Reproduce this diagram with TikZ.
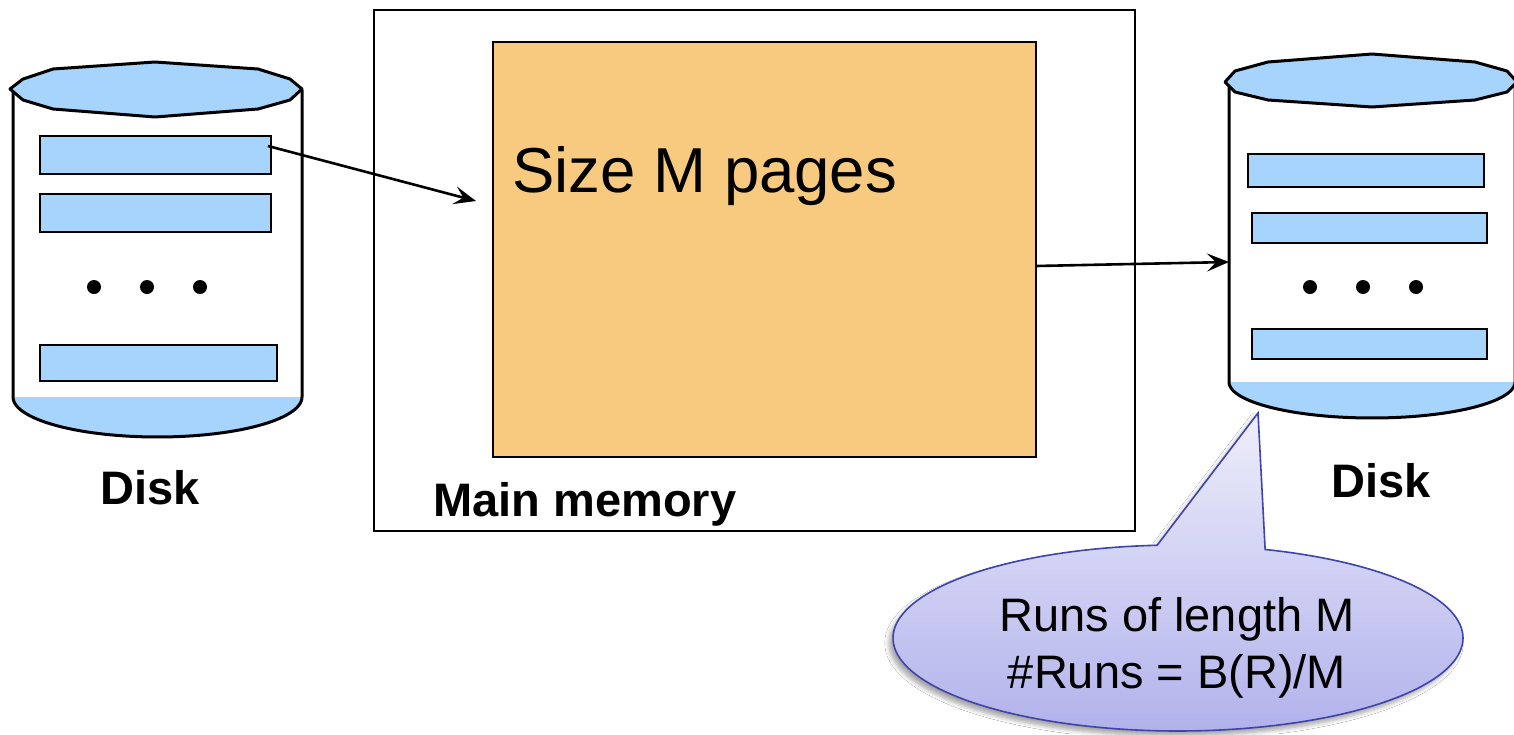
\documentclass[tikz,border=0pt]{standalone}
\usepackage{fontspec}
\setmainfont{Liberation Sans}
\usetikzlibrary{arrows.meta,shadows.blur,calc}
\definecolor{diskblue}{RGB}{166,212,252}
\definecolor{memorange}{RGB}{248,202,127}
\definecolor{calloutblue}{RGB}{62,68,170}
\definecolor{callouttop}{RGB}{238,238,251}
\definecolor{calloutbot}{RGB}{178,178,236}
\tikzset{
  outline/.style={line width=1.5pt, line join=round},
  blk/.style={draw, line width=1.3pt, fill=diskblue, inner sep=0pt, outer sep=0pt},
  dotmark/.style={circle, fill=black, inner sep=0pt, minimum size=7pt},
  boldlbl/.style={font=\fontsize{23.5}{28}\selectfont\bfseries, inner sep=0pt, anchor=base west},
  callouttxt/.style={font=\fontsize{23.5}{28}\selectfont, inner sep=0pt, anchor=base},
  conn/.style={line width=1.3pt, -{Stealth[length=11pt,width=9pt,inset=4.5pt]}},
  callout/.style={draw=calloutblue, line width=0.8pt, top color=callouttop, bottom color=calloutbot,
    blur shadow={shadow xshift=-2pt, shadow yshift=-2.5pt, shadow blur steps=6, shadow opacity=35}}
}
\begin{document}
\begin{tikzpicture}[x=0.5pt,y=-0.5pt]
\useasboundingbox (0,0) rectangle (1514,734);
\fill[white] (0,0) rectangle (1514,734);

% ---- main memory
\node[draw, line width=1.2pt, minimum width=380.5pt, minimum height=260.5pt, inner sep=0pt, outer sep=0pt] (mm) at (754.5,270.5) {};
\node[draw, line width=1.3pt, fill=memorange, minimum width=271.5pt, minimum height=207.5pt, inner sep=0pt, outer sep=0pt] (mem) at (764.5,249.5) {};
\node[font=\fontsize{31.75}{38}\selectfont, inner sep=0pt, anchor=base west] (size) at (512,192) {Size M pages};
\node[boldlbl] (mmlbl) at (433,516) {Main memory};

% ---- left disk
\fill[diskblue] (13,397) -- plot[domain=0:180,samples=60] ({157.5-144.5*cos(\x)},{397+40*sin(\x)}) -- cycle;
\draw[outline] (13,90) -- plot[domain=0:180,samples=60] ({157.5-144.5*cos(\x)},{397+40*sin(\x)}) -- (302,90);
\filldraw[outline, fill=diskblue] (10,89) -- (23,79) -- (53,69) -- (155,62) -- (258,69) -- (290,79) -- (302,89)
  -- (290,100) -- (258,109) -- (155,117) -- (53,109) -- (23,100) -- cycle;
\node[blk, minimum width=115.5pt, minimum height=19pt] (l1) at (155.5,155) {};
\node[blk, minimum width=115.5pt, minimum height=19pt] (l2) at (155.5,213) {};
\node[blk, minimum width=118.5pt, minimum height=18pt] (l3) at (158.5,363) {};
\node[dotmark] (ld1) at (94,287) {};
\node[dotmark] (ld2) at (147,287) {};
\node[dotmark] (ld3) at (200,287) {};
\node[boldlbl] (ldisk) at (100,504) {Disk};

% ---- right disk
\fill[diskblue] (1229,382) -- plot[domain=0:180,samples=60] ({1372-143*cos(\x)},{382+36*sin(\x)}) -- cycle;
\draw[outline] (1229,84) -- plot[domain=0:180,samples=60] ({1372-143*cos(\x)},{382+36*sin(\x)}) -- (1515,84);
\filldraw[outline, fill=diskblue] (1225,82) -- (1235,71) -- (1268,62) -- (1372,54) -- (1475,62) -- (1507,71) -- (1517,82)
  -- (1507,92) -- (1475,100) -- (1372,107) -- (1268,100) -- (1235,92) -- cycle;
\node[blk, minimum width=118pt, minimum height=16.5pt] (r1) at (1366,170.5) {};
\node[blk, minimum width=117.5pt, minimum height=15pt] (r2) at (1369.5,228) {};
\node[blk, minimum width=117.5pt, minimum height=15pt] (r3) at (1369.5,344) {};
\node[dotmark] (rd1) at (1310,287) {};
\node[dotmark] (rd2) at (1363,287) {};
\node[dotmark] (rd3) at (1416,287) {};
\node[boldlbl] (rdisk) at (1331,497) {Disk};

% ---- connectors
\coordinate (a1s) at ($(l1.east)+(-3,-9)$);
\coordinate (a1e) at ($(mem.west)+(-17,-48.5)$);
\coordinate (a2s) at ($(mem.east)+(0,16.5)$);
\coordinate (a2e) at (1229,262);
\draw[conn] (a1s) -- (a1e);
\draw[conn] (a2s) -- (a2e);

% ---- callout
\path[callout] plot[domain=94.2:432.2,samples=160] ({1178+285*cos(\x)},{638-93*sin(\x)}) -- (1258,413) -- cycle;
\node[callouttxt] (c1) at (1177,631) {Runs of length M};
\node[callouttxt] (c2) at (1177,688) {\#Runs = B(R)/M};
\end{tikzpicture}
\end{document}
